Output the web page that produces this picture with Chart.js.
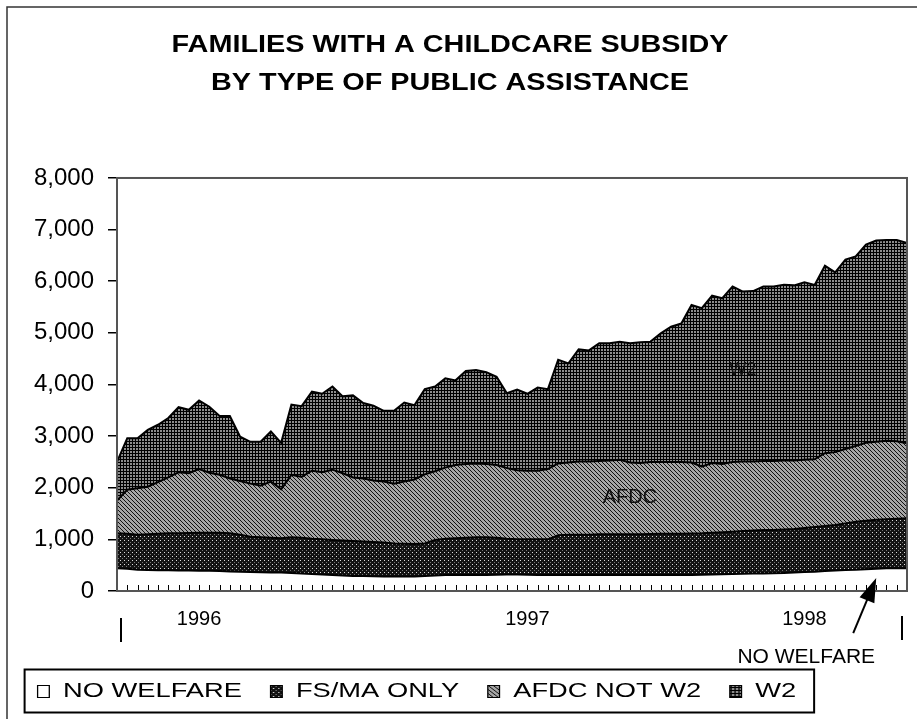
<!DOCTYPE html>
<html>
<head>
<meta charset="utf-8">
<script src="https://cdn.jsdelivr.net/npm/chart.js@4.4.0/dist/chart.umd.min.js"></script>
<style>
  html, body { margin: 0; padding: 0; background: #fff; }
</style>
</head>
<body>
<canvas id="chart" width="917" height="719"></canvas>
<script>
// one entry per reporting period
var periods = [1, 2, 3, 4, 5, 6, 7, 8, 9, 10, 11, 12, 13, 14, 15, 16, 17, 18, 19, 20,
    21, 22, 23, 24, 25, 26, 27, 28, 29, 30, 31, 32, 33, 34, 35, 36, 37, 38, 39, 40,
    41, 42, 43, 44, 45, 46, 47, 48, 49, 50, 51, 52, 53, 54, 55, 56, 57, 58, 59, 60,
    61, 62, 63, 64, 65, 66, 67, 68, 69, 70, 71, 72, 73, 74, 75, 76, 77, 78];
var yearLabels = ['1996', '1997', '1998'];
var yearTickIndex = [8, 40, 67];

var noWelfare = [440, 430, 410, 405, 400, 400, 395, 395, 390, 390,
    385, 380, 375, 370, 365, 360, 360, 350, 340, 330,
    320, 310, 300, 290, 290, 285, 280, 280, 280, 280,
    290, 300, 310, 310, 310, 310, 310, 315, 320, 320,
    315, 310, 310, 310, 310, 310, 310, 310, 310, 310,
    310, 310, 310, 310, 310, 310, 310, 315, 320, 325,
    330, 335, 340, 340, 345, 350, 360, 370, 375, 385,
    395, 405, 410, 420, 430, 440, 440, 440];
var fsMaOnly = [680, 680, 680, 695, 710, 720, 725, 730, 740, 740,
    745, 740, 715, 680, 675, 670, 660, 690, 690, 680,
    680, 680, 680, 680, 670, 665, 660, 640, 635, 630,
    630, 690, 700, 710, 720, 730, 730, 715, 690, 680,
    685, 690, 690, 770, 780, 780, 780, 790, 790, 790,
    790, 790, 795, 800, 800, 800, 805, 805, 810, 815,
    820, 825, 830, 840, 835, 840, 840, 850, 865, 875,
    885, 905, 930, 940, 950, 950, 960, 970];
var afdcNotW2 = [630, 850, 900, 920, 1000, 1080, 1180, 1155, 1230, 1160,
    1120, 1060, 1040, 1030, 1000, 1090, 950, 1210, 1180, 1320,
    1300, 1360, 1300, 1230, 1220, 1190, 1180, 1160, 1205, 1250,
    1340, 1330, 1380, 1420, 1430, 1430, 1420, 1410, 1370, 1340,
    1330, 1330, 1360, 1390, 1400, 1420, 1420, 1420, 1430, 1440,
    1390, 1380, 1395, 1390, 1390, 1390, 1375, 1290, 1350, 1320,
    1350, 1350, 1340, 1340, 1340, 1340, 1330, 1320, 1310, 1410,
    1410, 1440, 1470, 1510, 1510, 1520, 1500, 1450];
var w2 = [750, 1000, 970, 1100, 1110, 1150, 1260, 1230, 1330, 1280,
    1140, 1210, 860, 810, 850, 970, 900, 1360, 1370, 1530,
    1520, 1610, 1490, 1590, 1460, 1450, 1370, 1410, 1530, 1440,
    1650, 1640, 1730, 1640, 1800, 1810, 1780, 1710, 1450, 1560,
    1490, 1610, 1550, 2010, 1920, 2170, 2150, 2280, 2270, 2290,
    2310, 2340, 2330, 2490, 2620, 2680, 3050, 3070, 3240, 3210,
    3400, 3290, 3300, 3380, 3380, 3400, 3390, 3440, 3380, 3630,
    3480, 3670, 3670, 3840, 3900, 3890, 3900, 3880];

var FONT = '"Liberation Sans", Arial, sans-serif';
var LEGEND_STRETCH = 1.3;
var TITLE_STRETCH = 1.2;
var TITLE_CENTER_X = 450;

var canvas = document.getElementById('chart');
var ctx = canvas.getContext('2d');

function makePattern(size, bg, paint) {
    var c = document.createElement('canvas');
    c.width = size;
    c.height = size;
    var g = c.getContext('2d');
    g.fillStyle = bg;
    g.fillRect(0, 0, size, size);
    paint(g);
    return ctx.createPattern(c, 'repeat');
}

var w2Fill = makePattern(3, '#8c8c8c', function (g) {
    g.fillStyle = '#000';
    g.fillRect(0, 0, 3, 1);
    g.fillRect(0, 0, 1, 3);
});
var afdcFill = makePattern(4, '#a6a6a6', function (g) {
    g.fillStyle = '#111';
    for (var i = 0; i < 4; i++) g.fillRect(i, i, 1, 1);
});
var fsFill = makePattern(4, '#131313', function (g) {
    g.fillStyle = '#ddd';
    g.fillRect(0, 0, 1, 1);
    g.fillStyle = '#777';
    g.fillRect(2, 2, 1, 1);
});

// the scan has wide lettering in the title and legend, so those two boxes are drawn stretched
var stretchPlugin = {
    id: 'stretchText',
    afterInit: function (chart) {
        var lg = chart.legend;
        var drawLegend = lg.draw.bind(lg);
        lg.draw = function () {
            var c = chart.ctx;
            c.save();
            c.translate(lg.left, 0);
            c.scale(LEGEND_STRETCH, 1);
            c.translate(-lg.left, 0);
            drawLegend();
            c.restore();
        };
        var tb = chart.titleBlock;
        var drawTitle = tb.draw.bind(tb);
        tb.draw = function () {
            var c = chart.ctx;
            c.save();
            c.translate(TITLE_CENTER_X, 0);
            c.scale(TITLE_STRETCH, 1);
            c.translate(-(tb.left + tb.right) / 2, 0);
            drawTitle();
            c.restore();
        };
    }
};

var notesPlugin = {
    id: 'notes',
    beforeDraw: function (chart) {
        var c = chart.ctx;
        c.save();
        c.strokeStyle = '#333';
        c.lineWidth = 1.5;
        c.beginPath();
        c.moveTo(7, chart.height);
        c.lineTo(7, 7);
        c.lineTo(chart.width, 7);
        c.stroke();
        c.restore();
    },
    afterDatasetsDraw: function (chart) {
        var c = chart.ctx;
        var a = chart.chartArea;
        var xs = chart.scales.x;
        var ys = chart.scales.y;
        c.save();
        c.strokeStyle = '#000';
        c.lineWidth = 1;
        for (var i = 0; i < periods.length; i++) {
            var px = Math.round(xs.getPixelForValue(i)) + 0.5;
            c.beginPath();
            c.moveTo(px, a.bottom);
            c.lineTo(px, a.bottom - 6);
            c.stroke();
        }
        c.strokeStyle = '#555';
        c.lineWidth = 2;
        c.strokeRect(a.left, a.top, a.right - a.left, a.bottom - a.top);

        c.fillStyle = '#111';
        c.textAlign = 'center';
        c.textBaseline = 'middle';
        c.font = '18px ' + FONT;
        c.fillText('W2', xs.getPixelForValue(61), ys.getPixelForValue(4280));
        c.font = '20px ' + FONT;
        c.fillText('AFDC', xs.getPixelForValue(50), ys.getPixelForValue(1820));
        c.restore();
    },
    afterDraw: function (chart) {
        var c = chart.ctx;
        var a = chart.chartArea;
        var xs = chart.scales.x;
        var ys = chart.scales.y;
        c.save();
        c.strokeStyle = '#000';
        c.fillStyle = '#000';
        c.lineWidth = 2;

        // end markers under the category axis
        c.beginPath();
        c.moveTo(xs.left + 4, a.bottom + 27);
        c.lineTo(xs.left + 4, a.bottom + 51);
        c.moveTo(xs.right - 5, a.bottom + 25);
        c.lineTo(xs.right - 5, a.bottom + 49);
        c.stroke();

        // NO WELFARE callout
        var tipX = xs.getPixelForValue(74);
        var tipY = ys.getPixelForValue(250);
        var tailX = tipX - 23;
        var tailY = tipY + 55;
        var ang = Math.atan2(tipY - tailY, tipX - tailX);
        c.beginPath();
        c.moveTo(tailX, tailY);
        c.lineTo(tipX - Math.cos(ang) * 18, tipY - Math.sin(ang) * 18);
        c.stroke();
        c.beginPath();
        c.moveTo(tipX, tipY);
        c.lineTo(tipX - Math.cos(ang) * 24 + Math.sin(ang) * 8, tipY - Math.sin(ang) * 24 - Math.cos(ang) * 8);
        c.lineTo(tipX - Math.cos(ang) * 24 - Math.sin(ang) * 8, tipY - Math.sin(ang) * 24 + Math.cos(ang) * 8);
        c.closePath();
        c.fill();
        c.font = '21px ' + FONT;
        c.textAlign = 'center';
        c.textBaseline = 'middle';
        c.fillText('NO WELFARE', tipX - 70, tipY + 79);

        // frame round the legend
        var lg = chart.legend;
        var hb = lg.legendHitBoxes;
        if (hb && hb.length) {
            var first = hb[0];
            var last = hb[hb.length - 1];
            var sx = function (x) { return lg.left + (x - lg.left) * LEGEND_STRETCH; };
            var x0 = sx(first.left) - 13;
            var x1 = sx(last.left + last.width) + 18;
            var cy = first.top + first.height / 2;
            c.lineWidth = 2;
            c.strokeRect(x0, cy - 22, x1 - x0, 43);
        }
        c.restore();
    }
};

function seriesStyle(label, data, fill, bg) {
    return {
        label: label,
        data: data,
        backgroundColor: bg,
        borderColor: '#000',
        borderWidth: 2,
        fill: fill,
        pointRadius: 0,
        tension: 0
    };
}

new Chart(ctx, {
    type: 'line',
    data: {
        labels: periods,
        datasets: [
            seriesStyle('NO WELFARE', noWelfare, 'origin', '#ffffff'),
            seriesStyle('FS/MA ONLY', fsMaOnly, '-1', fsFill),
            seriesStyle('AFDC NOT W2', afdcNotW2, '-1', afdcFill),
            seriesStyle('W2', w2, '-1', w2Fill)
        ]
    },
    options: {
        responsive: false,
        animation: false,
        events: [],
        layout: { padding: { top: 7, left: 9, right: 10, bottom: 7 } },
        plugins: {
            title: {
                display: true,
                text: ['FAMILIES WITH A CHILDCARE SUBSIDY', 'BY TYPE OF PUBLIC ASSISTANCE'],
                color: '#000',
                font: { family: FONT, size: 24, weight: 'bold', lineHeight: 1.583 },
                padding: { top: 19, bottom: 76 }
            },
            legend: {
                position: 'bottom',
                align: 'start',
                labels: {
                    color: '#000',
                    font: { family: FONT, size: 21 },
                    boxWidth: 9,
                    boxHeight: 12,
                    padding: 22,
                    generateLabels: function (chart) {
                        var items = Chart.defaults.plugins.legend.labels.generateLabels(chart);
                        items.forEach(function (it) {
                            it.lineWidth = 1;
                            it.strokeStyle = '#000';
                        });
                        return items;
                    }
                }
            },
            tooltip: { enabled: false }
        },
        scales: {
            x: {
                stacked: true,
                border: { display: false },
                // invisible tick marks only push the year labels down
                grid: { drawOnChartArea: false, drawTicks: true, tickLength: 16, color: 'rgba(0,0,0,0)' },
                afterFit: function (scale) { scale.height = 68; },
                ticks: {
                    autoSkip: false,
                    maxRotation: 0,
                    padding: 0,
                    color: '#000',
                    font: { family: FONT, size: 20 },
                    callback: function (val, idx) {
                        var k = yearTickIndex.indexOf(idx);
                        return k >= 0 ? yearLabels[k] : '';
                    }
                }
            },
            y: {
                stacked: true,
                min: 0,
                max: 8000,
                border: { display: false },
                afterFit: function (scale) { scale.width = 108; },
                grid: {
                    drawOnChartArea: false,
                    drawTicks: true,
                    tickLength: 9,
                    color: '#000',
                    lineWidth: 1.5
                },
                ticks: {
                    stepSize: 1000,
                    padding: 14,
                    color: '#000',
                    font: { family: FONT, size: 24 },
                    callback: function (v) { return v.toLocaleString('en-US'); }
                }
            }
        }
    },
    plugins: [stretchPlugin, notesPlugin]
});
</script>
</body>
</html>
